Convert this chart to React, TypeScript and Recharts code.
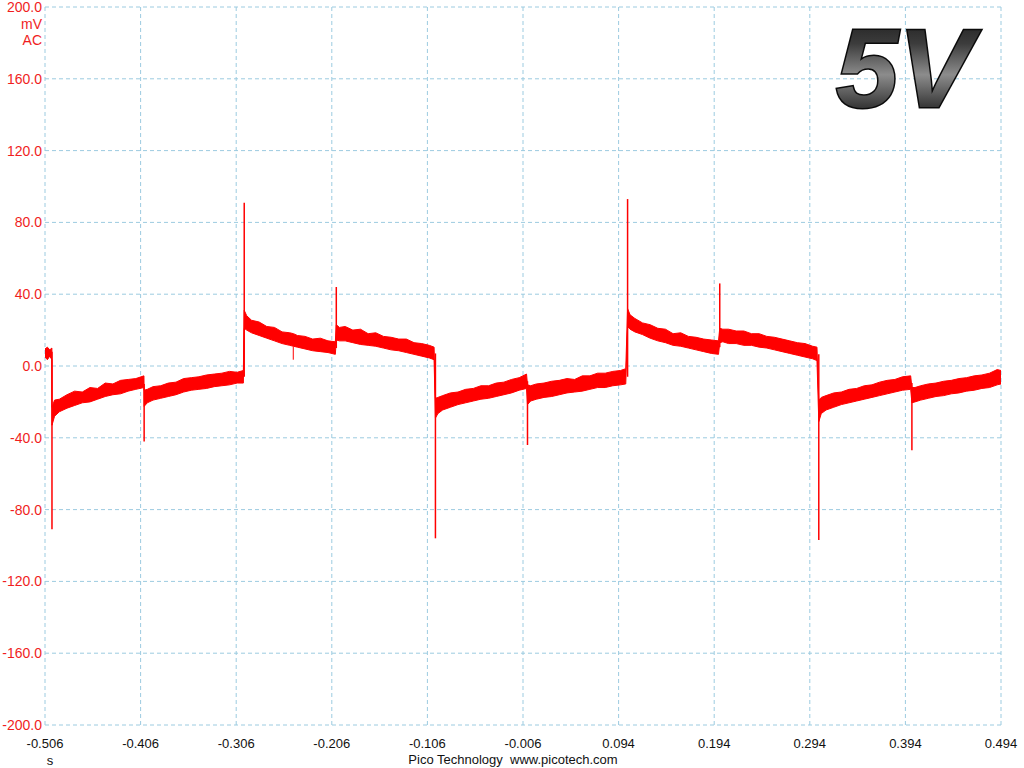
import { ComposedChart, Area, XAxis, YAxis, CartesianGrid, ReferenceLine } from "recharts";

// trace: time (s), upper and lower edge of the noisy band (mV)
const time = [
  -0.506, -0.5035, -0.501, -0.4988,
  -0.4987, -0.496, -0.491, -0.483, -0.475, -0.467, -0.459, -0.451, -0.443, -0.435, -0.427, -0.419, -0.411, -0.4025,
  -0.4023, -0.399, -0.393, -0.385, -0.377, -0.369, -0.361, -0.353, -0.345, -0.337, -0.329, -0.321, -0.313, -0.305, -0.2985,
  -0.2976, -0.295, -0.29, -0.282, -0.274, -0.266, -0.258, -0.25, -0.246, -0.242, -0.234, -0.226, -0.218, -0.21, -0.2023,
  -0.2013, -0.198, -0.192, -0.184, -0.176, -0.168, -0.16, -0.152, -0.144, -0.136, -0.128, -0.12, -0.112, -0.104, -0.099,
  -0.0976, -0.095, -0.09, -0.082, -0.074, -0.066, -0.058, -0.05, -0.042, -0.034, -0.026, -0.018, -0.01, -0.0023,
  -0.0013, 0.002, 0.008, 0.016, 0.024, 0.032, 0.04, 0.048, 0.056, 0.064, 0.072, 0.08, 0.088, 0.096, 0.1015,
  0.1034, 0.106, 0.111, 0.119, 0.127, 0.135, 0.143, 0.151, 0.159, 0.167, 0.175, 0.183, 0.191, 0.1985,
  0.1998, 0.203, 0.209, 0.217, 0.225, 0.233, 0.241, 0.249, 0.257, 0.265, 0.273, 0.281, 0.289, 0.297, 0.3015,
  0.3034, 0.306, 0.311, 0.319, 0.327, 0.335, 0.343, 0.351, 0.359, 0.367, 0.375, 0.383, 0.391, 0.3995,
  0.4008, 0.404, 0.41, 0.418, 0.426, 0.434, 0.442, 0.45, 0.458, 0.466, 0.474, 0.482, 0.49, 0.494,
];

const upper = [
  9.5, 10.5, 9, 10,
  -23, -19, -18.5, -16, -14, -14.5, -12, -12.5, -9.5, -10, -8, -7.5, -7, -5.5,
  -13.5, -13, -11.5, -11, -9.5, -9, -7, -6.5, -6, -5, -4.5, -4, -3, -3.5, -2.5,
  31, 28, 25.5, 24.5, 22, 21.5, 19, 18.5, 18, 17, 16.5, 15, 15.5, 14, 13.5,
  23, 21.5, 22, 20, 20.5, 18, 18.5, 16.5, 16, 15, 15, 13, 12.5, 11.5, 10.5,
  -18, -17.5, -16.5, -15, -14.5, -13, -12.5, -11, -11, -9.5, -9, -7.5, -6.5, -4.5,
  -10.5, -11, -10, -9.5, -8.5, -8, -7, -7.5, -5.5, -5.5, -4, -4, -3, -2.5, -1.5,
  32, 28.5, 26.5, 24, 23, 21, 20.5, 18, 18.5, 16.5, 16, 15, 14.5, 14,
  21, 20.5, 20.5, 19.5, 19.5, 18, 18, 16.5, 16, 15, 14, 13, 12.5, 11, 10.5,
  -19, -17.5, -16.5, -15, -14.5, -13, -12.5, -11, -10.5, -9, -8, -7.5, -6, -5.5,
  -12, -12, -11, -10, -9.5, -8.5, -8, -7, -6.5, -5.5, -5, -4, -2, -2.5,
];

const lower = [
  5, 3.5, 5.5, 3.5,
  -33, -28, -25.5, -23.5, -22, -20.5, -20, -18.5, -17, -16, -15.5, -14, -13, -12,
  -22.5, -20.5, -19, -18, -17, -16, -14.5, -13.5, -13, -12.5, -11.5, -11, -10.5, -9.5, -9.5,
  21, 20, 18.5, 17, 15.5, 14, 12.5, 11.5, 11, 10.5, 9.5, 8.5, 8, 7.5, 6.5,
  14.5, 14, 14, 13, 12, 11.5, 11, 10, 9, 8.5, 7.5, 6.5, 5.5, 4.5, 3.5,
  -29, -26.5, -24.5, -23, -21.5, -20.5, -19.5, -18.5, -18, -17, -16, -15, -13.5, -12.5,
  -21.5, -19.5, -18.5, -17.5, -17, -16, -15, -14.5, -14, -13, -12, -12, -11, -10.5, -10,
  22, 20.5, 19, 17.5, 15.5, 14, 13, 11.5, 11, 10, 9, 8, 7, 6.5,
  13, 13.5, 12.5, 12.5, 11.5, 11.5, 10.5, 10, 9, 8, 7, 6, 5, 4, 3,
  -31, -26.5, -24.5, -23, -21.5, -20.5, -19.5, -18.5, -17.5, -16.5, -15.5, -14.5, -13.5, -13,
  -20.5, -20, -19, -18, -17, -16.5, -15.5, -15, -14, -13.5, -12.5, -12, -10.5, -10,
];

// switching spikes: where they sit, level they leave from, tip value
const spikeTime = [-0.4987, -0.4023, -0.2976, -0.2013, -0.0976, -0.0013, 0.1034, 0.1998, 0.3034, 0.4008];
const spikeFrom = [8, -10, -6, 10, 7, -8.5, -6, 10.5, 6.5, -9.5];
const spikeTo = [-91, -42, 91, 44, -96, -44, 93, 46, -97, -47];

// a stray noise needle below the band
const needleTime = [-0.2463];
const needleFrom = [11];
const needleTo = [3.5];

const xTicks = [-0.506, -0.406, -0.306, -0.206, -0.106, -0.006, 0.094, 0.194, 0.294, 0.394, 0.494];
const yTicks = [-200, -160, -120, -80, -40, 0, 40, 80, 120, 160, 200];

const RED = "#ff0000";
const LABEL_RED = "#f01e1e";
const GRID = "#9ccbe0";
const FONT = '"Liberation Sans", Arial, sans-serif';

export default function App() {
  const data = time.map((t, i) => ({ t, band: [lower[i], upper[i]] }));

  return (
    <div style={{ position: "absolute", left: 0, top: 0, width: 1024, height: 768, background: "#fff" }}>
      <ComposedChart width={1024} height={768} data={data} margin={{ top: 7, right: 23, bottom: 0, left: 0 }}>
        <CartesianGrid stroke={GRID} strokeDasharray="4 3" />
        <XAxis
          dataKey="t"
          type="number"
          domain={[-0.506, 0.494]}
          ticks={xTicks}
          interval={0}
          allowDataOverflow
          axisLine={false}
          tickLine={false}
          tickSize={6}
          tickMargin={8}
          height={43}
          tickFormatter={(v: number) => v.toFixed(3)}
          tick={{ fill: "#111", fontSize: 13, fontFamily: FONT }}
        />
        <YAxis
          type="number"
          domain={[-200, 200]}
          ticks={yTicks}
          interval={0}
          width={45}
          axisLine={false}
          tickLine={false}
          tickSize={3}
          tickMargin={0}
          tickFormatter={(v: number) => v.toFixed(1)}
          tick={{ fill: LABEL_RED, fontSize: 14, fontFamily: FONT }}
        />
        <Area
          dataKey="band"
          type="linear"
          stroke={RED}
          strokeWidth={1}
          fill={RED}
          fillOpacity={1}
          dot={false}
          activeDot={false}
          isAnimationActive={false}
        />
        {spikeTime.map((t, i) => (
          <ReferenceLine
            key={`s${i}`}
            segment={[
              { x: t, y: spikeFrom[i] },
              { x: t, y: spikeTo[i] },
            ]}
            stroke={RED}
            strokeWidth={1.5}
          />
        ))}
        {needleTime.map((t, i) => (
          <ReferenceLine
            key={`n${i}`}
            segment={[
              { x: t, y: needleFrom[i] },
              { x: t, y: needleTo[i] },
            ]}
            stroke={RED}
            strokeWidth={1}
          />
        ))}
      </ComposedChart>

      <svg width={1024} height={768} style={{ position: "absolute", left: 0, top: 0, pointerEvents: "none" }}>
        <defs>
          <linearGradient id="chrome" x1="0" y1="0" x2="0" y2="1">
            <stop offset="0" stopColor="#151515" />
            <stop offset="0.3" stopColor="#3c3c3c" />
            <stop offset="0.55" stopColor="#8c8c8c" />
            <stop offset="0.8" stopColor="#3a3a3a" />
            <stop offset="1" stopColor="#101010" />
          </linearGradient>
        </defs>
        <text x={42} y={29} textAnchor="end" fontSize={14} fontFamily={FONT} fill={LABEL_RED}>mV</text>
        <text x={42} y={45} textAnchor="end" fontSize={14} fontFamily={FONT} fill={LABEL_RED}>AC</text>
        <text x={50} y={765} textAnchor="middle" fontSize={13} fontFamily={FONT} fill="#111">s</text>
        <text x={513} y={764} textAnchor="middle" fontSize={13} fontFamily={FONT} fill="#111" style={{ whiteSpace: "pre" }}>
          Pico Technology  www.picotech.com
        </text>
        <text
          x={836}
          y={107}
          fontSize={112}
          fontWeight="bold"
          fontStyle="italic"
          fontFamily={FONT}
          fill="url(#chrome)"
          stroke="#0b0b0b"
          strokeWidth={3}
          style={{ paintOrder: "stroke" }}
        >
          5V
        </text>
      </svg>
    </div>
  );
}
